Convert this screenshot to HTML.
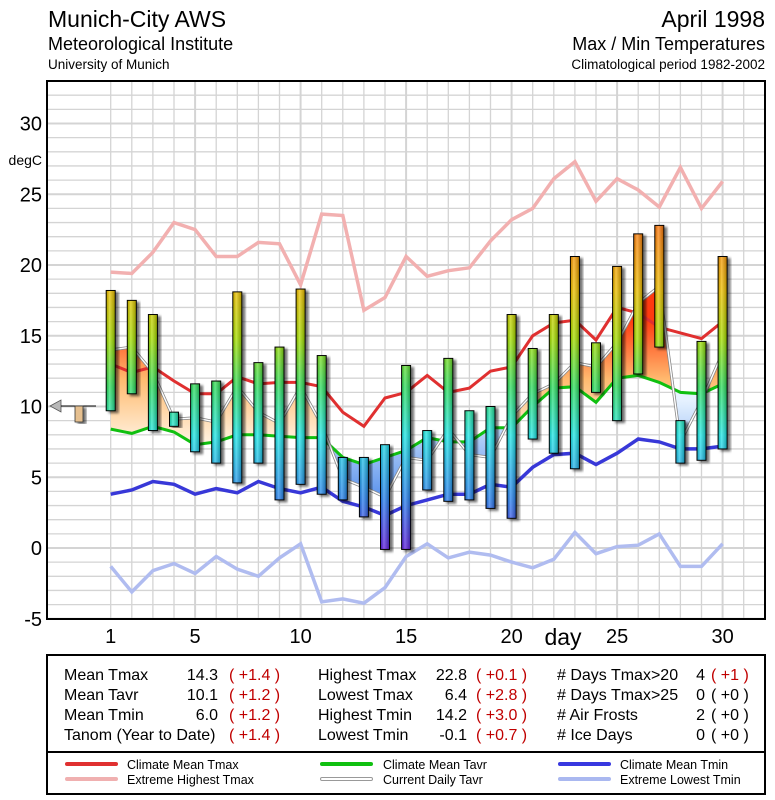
<!DOCTYPE html>
<html><head><meta charset="utf-8">
<style>
html,body{margin:0;padding:0;background:#fff;}
svg{display:block;font-family:"Liberation Sans",Arial,sans-serif;}
</style></head>
<body>
<svg id="chart" width="775" height="800" viewBox="0 0 775 800" xmlns="http://www.w3.org/2000/svg">
<defs>
  <linearGradient id="barGrad" gradientUnits="userSpaceOnUse" x1="0" y1="225" x2="0" y2="549">
    <stop offset="0" stop-color="#ff7a10"/>
    <stop offset="0.2" stop-color="#f0c000"/>
    <stop offset="0.35" stop-color="#a8e000"/>
    <stop offset="0.5" stop-color="#30e060"/>
    <stop offset="0.65" stop-color="#20e8e8"/>
    <stop offset="0.85" stop-color="#2a80f0"/>
    <stop offset="1" stop-color="#6020e0"/>
  </linearGradient>
  <linearGradient id="barShine" x1="0" y1="0" x2="1" y2="0">
    <stop offset="0" stop-color="#000" stop-opacity="0.15"/>
    <stop offset="0.35" stop-color="#fff" stop-opacity="0.25"/>
    <stop offset="1" stop-color="#000" stop-opacity="0.25"/>
  </linearGradient>
  <linearGradient id="warmGrad" gradientUnits="userSpaceOnUse" x1="0" y1="440" x2="0" y2="320">
    <stop offset="0" stop-color="#fff0dc"/>
    <stop offset="0.5" stop-color="#ffbb70"/>
    <stop offset="1" stop-color="#ff3a10"/>
  </linearGradient>
  <linearGradient id="coldGrad" gradientUnits="userSpaceOnUse" x1="0" y1="400" x2="0" y2="520">
    <stop offset="0" stop-color="#e6f2ff"/>
    <stop offset="1" stop-color="#3c7ee8"/>
  </linearGradient>
  <filter id="shadow" x="-50%" y="-10%" width="200%" height="120%">
    <feDropShadow dx="3" dy="2" stdDeviation="1.2" flood-color="#000" flood-opacity="0.55"/>
  </filter>
  <clipPath id="plotClip"><rect x="48" y="82" width="716" height="537"/></clipPath>
  <clipPath id="aboveClip"><polygon id="aboveClipPoly"/></clipPath>
  <clipPath id="belowClip"><polygon id="belowClipPoly"/></clipPath>
</defs>

<g>
  <text x="48" y="27" font-size="23">Munich-City AWS</text>
  <text x="48" y="50" font-size="18">Meteorological Institute</text>
  <text x="48" y="69" font-size="13.5">University of Munich</text>
  <text x="765" y="27" font-size="23" text-anchor="end">April 1998</text>
  <text x="765" y="50" font-size="18" text-anchor="end">Max / Min Temperatures</text>
  <text x="765" y="69" font-size="13.5" text-anchor="end">Climatological period 1982-2002</text>
</g>

<g id="grid"></g>
<g id="yAxis"></g>
<g id="xAxis"></g>
<g id="series" clip-path="url(#plotClip)"></g>
<rect x="47" y="81" width="718" height="538" fill="none" stroke="#000" stroke-width="2"/>

<g>
  <polygon points="50,406 61,400 61,412" fill="#b8b8b8" stroke="#555" stroke-width="0.8"/>
  <line x1="61" y1="406" x2="96" y2="406" stroke="#000" stroke-width="1"/>
  <rect x="75" y="406" width="8" height="16" fill="#e6c090" stroke="#333" stroke-width="0.8" filter="url(#shadow)"/>
</g>

<g font-size="16">
  <rect x="47" y="655" width="718" height="97" fill="#fff" stroke="#000" stroke-width="2"/>
  <g>
    <text x="64" y="680">Mean Tmax</text><text x="218" y="680" text-anchor="end">14.3</text><text x="229" y="680" fill="#c00000">( +1.4 )</text>
    <text x="64" y="700">Mean Tavr</text><text x="218" y="700" text-anchor="end">10.1</text><text x="229" y="700" fill="#c00000">( +1.2 )</text>
    <text x="64" y="720">Mean Tmin</text><text x="218" y="720" text-anchor="end">6.0</text><text x="229" y="720" fill="#c00000">( +1.2 )</text>
    <text x="64" y="740">Tanom (Year to Date)</text><text x="229" y="740" fill="#c00000">( +1.4 )</text>
  </g>
  <g>
    <text x="318" y="680">Highest Tmax</text><text x="467" y="680" text-anchor="end">22.8</text><text x="476" y="680" fill="#c00000">( +0.1 )</text>
    <text x="318" y="700">Lowest Tmax</text><text x="467" y="700" text-anchor="end">6.4</text><text x="476" y="700" fill="#c00000">( +2.8 )</text>
    <text x="318" y="720">Highest Tmin</text><text x="467" y="720" text-anchor="end">14.2</text><text x="476" y="720" fill="#c00000">( +3.0 )</text>
    <text x="318" y="740">Lowest Tmin</text><text x="467" y="740" text-anchor="end">-0.1</text><text x="476" y="740" fill="#c00000">( +0.7 )</text>
  </g>
  <g>
    <text x="557" y="680"># Days Tmax&gt;20</text><text x="705" y="680" text-anchor="end">4</text><text x="711" y="680" fill="#c00000">( +1 )</text>
    <text x="557" y="700"># Days Tmax&gt;25</text><text x="705" y="700" text-anchor="end">0</text><text x="711" y="700">( +0 )</text>
    <text x="557" y="720"># Air Frosts</text><text x="705" y="720" text-anchor="end">2</text><text x="711" y="720">( +0 )</text>
    <text x="557" y="740"># Ice Days</text><text x="705" y="740" text-anchor="end">0</text><text x="711" y="740">( +0 )</text>
  </g>
</g>

<g font-size="12.5">
  <rect x="47" y="752" width="718" height="42" fill="#fff" stroke="#000" stroke-width="2"/>
  <g><line x1="67" y1="764" x2="116" y2="764" stroke="#e03030" stroke-width="4" stroke-linecap="round"/><text x="127" y="769">Climate Mean Tmax</text></g>
  <g><line x1="67" y1="779" x2="116" y2="779" stroke="#f0b0b0" stroke-width="4" stroke-linecap="round"/><text x="127" y="784">Extreme Highest Tmax</text></g>
  <g><line x1="322" y1="764" x2="371" y2="764" stroke="#10c010" stroke-width="4" stroke-linecap="round"/><text x="383" y="769">Climate Mean Tavr</text></g>
  <g><line x1="322" y1="779" x2="371" y2="779" stroke="#999" stroke-width="4" stroke-linecap="round"/><line x1="322" y1="779" x2="371" y2="779" stroke="#fff" stroke-width="2" stroke-linecap="round"/><text x="383" y="784">Current Daily Tavr</text></g>
  <g><line x1="560" y1="764" x2="609" y2="764" stroke="#3838e0" stroke-width="4" stroke-linecap="round"/><text x="620" y="769">Climate Mean Tmin</text></g>
  <g><line x1="560" y1="779" x2="609" y2="779" stroke="#aab8f0" stroke-width="4" stroke-linecap="round"/><text x="620" y="784">Extreme Lowest Tmin</text></g>
</g>

<script>
const days = [1,2,3,4,5,6,7,8,9,10,11,12,13,14,15,16,17,18,19,20,21,22,23,24,25,26,27,28,29,30];
const tmax = [18.2,17.5,16.5,9.6,11.6,11.8,18.1,13.1,14.2,18.3,13.6,6.4,6.4,7.3,12.9,8.3,13.4,9.7,10.0,16.5,14.1,16.5,20.6,14.5,19.9,22.2,22.8,9.0,14.6,20.6];
const tmin = [9.7,10.9,8.3,8.6,6.8,6.0,4.6,6.0,3.4,4.5,3.8,3.4,2.2,-0.1,-0.1,4.1,3.3,3.4,2.8,2.1,7.7,6.7,5.6,11.0,9.0,12.3,14.2,6.0,6.2,7.0];
const tavrCurrent = [14.0,14.2,12.4,9.1,9.2,8.9,11.4,9.6,8.8,11.4,8.7,4.9,4.3,3.6,6.4,6.2,8.4,6.6,6.4,9.3,10.9,11.6,13.1,12.8,14.5,17.3,18.5,7.5,10.4,13.8];
const climTmax = [13.0,12.4,12.8,11.8,10.9,10.9,12.1,11.6,11.7,11.7,11.4,9.6,8.6,10.6,11.0,12.2,11.0,11.3,12.5,12.8,15.0,15.9,16.1,14.7,17.0,16.6,15.6,15.2,14.8,16.0];
const climTavr = [8.4,8.1,8.6,8.2,7.3,7.5,8.0,8.0,7.9,7.8,7.8,6.4,5.9,6.4,6.9,7.8,7.5,7.5,8.5,8.5,10.0,11.3,11.4,10.3,12.0,12.2,11.7,11.0,10.9,11.6];
const climTmin = [3.8,4.1,4.7,4.5,3.8,4.2,3.9,4.7,4.2,3.9,4.3,3.3,2.9,2.3,3.0,3.4,3.8,3.8,4.5,4.3,5.7,6.6,6.7,5.9,6.7,7.7,7.5,7.0,7.0,7.2];
const extMax = [19.5,19.4,20.9,23.0,22.5,20.6,20.6,21.6,21.5,18.6,23.6,23.5,16.8,17.7,20.6,19.2,19.6,19.8,21.7,23.2,24.0,26.1,27.3,24.5,26.1,25.3,24.1,26.9,24.0,25.9];
const extMin = [-1.3,-3.1,-1.6,-1.1,-1.8,-0.6,-1.5,-2.0,-0.7,0.3,-3.8,-3.6,-3.9,-2.8,-0.6,0.3,-0.7,-0.3,-0.5,-1.0,-1.4,-0.8,1.1,-0.4,0.1,0.2,1.0,-1.3,-1.3,0.3];
const yTicks = [30,25,20,15,10,5,0,-5];
const xTicks = [1,5,10,15,20,25,30];

const NS = "http://www.w3.org/2000/svg";
const X = d => 110.7 + (d - 1) * 21.1;
const Y = t => 548 - t * 14.15;
function mk(tag, attrs, parent){
  const e = document.createElementNS(NS, tag);
  for (const k in attrs) e.setAttribute(k, attrs[k]);
  parent.appendChild(e); return e;
}
const grid = document.getElementById('grid');
const yAx = document.getElementById('yAxis');
const xAx = document.getElementById('xAxis');
const ser = document.getElementById('series');

// grid
for (let t = -5; t <= 33; t++) {
  const l = mk('line', {x1:48, x2:764, y1:Y(t), y2:Y(t), stroke:'#d4d4d4', 'stroke-width': t % 5 === 0 ? 2 : 1.3}, grid);
  
  
}
for (let d = 1; d <= 31; d++) {
  const l = mk('line', {x1:X(d), x2:X(d), y1:82, y2:619, stroke:'#d4d4d4', 'stroke-width': d % 5 === 0 ? 2 : 1.3}, grid);
  
  
}
// y axis labels
yTicks.forEach(t => {
  const tx = mk('text', {x:42, y:Y(t)+7, 'font-size':20, 'text-anchor':'end'}, yAx);
  tx.textContent = t;
  
  
});
const unit = mk('text', {x:42, y:165, 'font-size':14, 'text-anchor':'end'}, yAx);
unit.textContent = 'degC';


// x axis labels
xTicks.forEach(d => {
  const tx = mk('text', {x:X(d), y:643, 'font-size':20, 'text-anchor':'middle'}, xAx);
  tx.textContent = d;
  
  
});
const dl = mk('text', {x:563, y:645, 'font-size':23, 'text-anchor':'middle'}, xAx);
dl.textContent = 'day';



const pts = arr => arr.map((v,i) => X(days[i]).toFixed(1) + ',' + Y(v).toFixed(1));

// anomaly fill between current and climate Tavr
const climPts = pts(climTavr);
document.getElementById('aboveClipPoly').setAttribute('points', [X(1)+',82', ...climPts, X(30)+',82'].join(' '));
document.getElementById('belowClipPoly').setAttribute('points', [X(1)+',619', ...climPts, X(30)+',619'].join(' '));
const areaPts = [...pts(tavrCurrent), ...climPts.slice().reverse()].join(' ');
const warm = mk('polygon', {points: areaPts, fill:'url(#warmGrad)', 'clip-path':'url(#aboveClip)'}, ser);


const cold = mk('polygon', {points: areaPts, fill:'url(#coldGrad)', 'clip-path':'url(#belowClip)'}, ser);



function line(arr, color, w, name){
  const p = mk('polyline', {points: pts(arr).join(' '), fill:'none', stroke: color, 'stroke-width': w, 'stroke-linejoin':'miter'}, ser);
  
  
  return p;
}
line(extMax, '#f2b0b0', 3.5, 'extreme-highest-tmax-line');
line(extMin, '#b0bcf0', 3.5, 'extreme-lowest-tmin-line');
line(climTmin, '#3838d8', 3.5, 'climate-mean-tmin-line');
line(climTmax, '#e03030', 3, 'climate-mean-tmax-line');
line(climTavr, '#10c010', 3, 'climate-mean-tavr-line');
line(tavrCurrent, '#888', 3, 'current-tavr-line-outline');
line(tavrCurrent, '#fff', 1.4, 'current-tavr-line');

// bars
days.forEach((d,i) => {
  const top = Y(tmax[i]), bot = Y(tmin[i]);
  const g = mk('g', {filter:'url(#shadow)'}, ser);
  
  
  mk('rect', {x: X(d)-4.5, y: top, width: 9, height: Math.max(1, bot-top), fill:'url(#barGrad)', stroke:'#000', 'stroke-width':1}, g);
  mk('rect', {x: X(d)-4, y: top+0.5, width: 8, height: Math.max(0.5, bot-top-1), fill:'url(#barShine)'}, g);
});
</script>
</svg>
</body></html>
